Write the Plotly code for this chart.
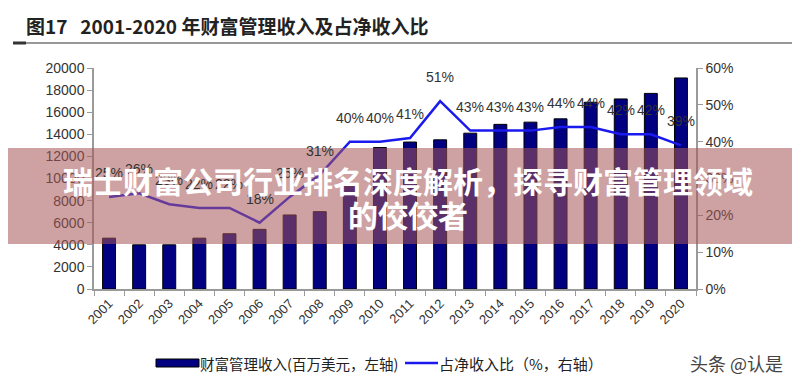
import plotly.graph_objects as go

years = [str(y) for y in range(2001, 2021)]
income = [4600, 4000, 4000, 4600, 5000, 5400, 6700, 7000, 9300, 12800,
          13300, 13500, 14100, 14900, 15100, 15400, 16900, 17200, 17700, 19100]
ratio = [25, 26, 23, 22, 22, 18, 25, 31, 40, 40,
         41, 51, 43, 43, 43, 44, 44, 42, 42, 39]

title_text = "图17   2001-2020 年财富管理收入及占净收入比"
bar_name = "财富管理收入(百万美元，左轴)"
line_name = "占净收入比（%，右轴）"
overlay_line1 = "瑞士财富公司行业排名深度解析，探寻财富管理领域"
overlay_line2 = "的佼佼者"
watermark = "头条 @认是"

# plot area in pixels
L, R, T, B = 86, 688, 60, 281
W, H = 800, 379
PW, PH = R - L, B - T


def px(x):
    return (x - L) / PW


def py(y):
    return (B - y) / PH


NAVY = "#000080"
BLUE = "#1a1aee"
TXT = "#333333"
AX = "#9a9a9a"
FONT = "Liberation Sans, Arial, sans-serif"
CJK = "Noto Sans CJK SC, sans-serif"

fig = go.Figure()
fig.add_trace(go.Bar(x=years, y=income, name=bar_name, width=0.43,
                     marker=dict(color=NAVY, line=dict(color="#000000", width=1)),
                     showlegend=False))
fig.add_trace(go.Scatter(x=years, y=ratio, name=line_name, yaxis="y2", mode="lines",
                         line=dict(color=BLUE, width=2.5), showlegend=False))

annotations = []
for i, v in enumerate(ratio):
    annotations.append(dict(x=i, y=v, xref="x", yref="y2", text=f"{v}%", showarrow=False,
                            yshift=24, font=dict(size=14, color=TXT, family=FONT)))

# title
annotations.append(dict(x=px(16), y=py(17), xref="paper", yref="paper", text=f"<b>{title_text}</b>",
                        showarrow=False, xanchor="left", yanchor="middle",
                        font=dict(size=19, color="#222222", family=CJK)))
# legend texts
annotations.append(dict(x=px(190), y=py(355), xref="paper", yref="paper", text=bar_name,
                        showarrow=False, xanchor="left", yanchor="middle",
                        font=dict(size=14.5, color="#222222", family=CJK)))
annotations.append(dict(x=px(429), y=py(355), xref="paper", yref="paper", text=line_name,
                        showarrow=False, xanchor="left", yanchor="middle",
                        font=dict(size=15, color="#222222", family=CJK)))
annotations.append(dict(x=px(680), y=py(355), xref="paper", yref="paper", text=watermark,
                        showarrow=False, xanchor="left", yanchor="middle",
                        font=dict(size=18, color="#444444", family=CJK)))
# overlay texts
annotations.append(dict(x=px(400), y=py(172), xref="paper", yref="paper", text=f"<b>{overlay_line1}</b>",
                        showarrow=False, xanchor="center", yanchor="middle",
                        font=dict(size=30, color="#ffffff", family=CJK)))
annotations.append(dict(x=px(400), y=py(206), xref="paper", yref="paper", text=f"<b>{overlay_line2}</b>",
                        showarrow=False, xanchor="center", yanchor="middle",
                        font=dict(size=30, color="#ffffff", family=CJK)))

shapes = [
    # title rule
    dict(type="line", xref="paper", yref="paper", x0=px(5), x1=px(795), y0=py(35), y1=py(35),
         line=dict(color="#333333", width=1.2)),
    dict(type="line", xref="paper", yref="paper", x0=px(5), x1=px(18), y0=py(35), y1=py(35),
         line=dict(color="#333333", width=3)),
    # legend marks
    dict(type="rect", xref="paper", yref="paper", x0=px(148), x1=px(191), y0=py(359), y1=py(351),
         fillcolor=NAVY, line=dict(color="#000000", width=1)),
    dict(type="line", xref="paper", yref="paper", x0=px(397), x1=px(430), y0=py(355), y1=py(355),
         line=dict(color=BLUE, width=2.5)),
    # overlay band
    dict(type="rect", xref="paper", yref="paper", x0=px(0), x1=px(W), y0=py(236), y1=py(140),
         fillcolor="rgba(165,85,85,0.55)", line=dict(width=0), layer="above"),
]

fig.update_layout(
    width=W, height=H,
    margin=dict(l=L, r=W - R, t=T, b=H - B),
    paper_bgcolor="white", plot_bgcolor="white",
    showlegend=False,
    xaxis=dict(type="category", range=[-0.5, len(years) - 0.5], tickangle=-45,
               showline=True, linecolor=AX, linewidth=1.5,
               ticks="outside", tickcolor=AX, ticklen=5, tickson="boundaries",
               tickfont=dict(size=13, color=TXT, family=FONT), showgrid=False),
    yaxis=dict(range=[0, 20000], dtick=2000, tickformat="d", showline=True, linecolor=AX, linewidth=1.5,
               ticks="outside", tickcolor=AX, ticklen=5, showgrid=False, zeroline=False,
               tickfont=dict(size=14, color=TXT, family=FONT)),
    yaxis2=dict(range=[0, 60], dtick=10, ticksuffix="%", overlaying="y", side="right",
                showline=True, linecolor=AX, linewidth=1.5, ticks="outside", tickcolor=AX,
                ticklen=5, showgrid=False, zeroline=False,
                tickfont=dict(size=14, color=TXT, family=FONT)),
    annotations=annotations,
    shapes=shapes,
)

fig.write_html("out.html")
